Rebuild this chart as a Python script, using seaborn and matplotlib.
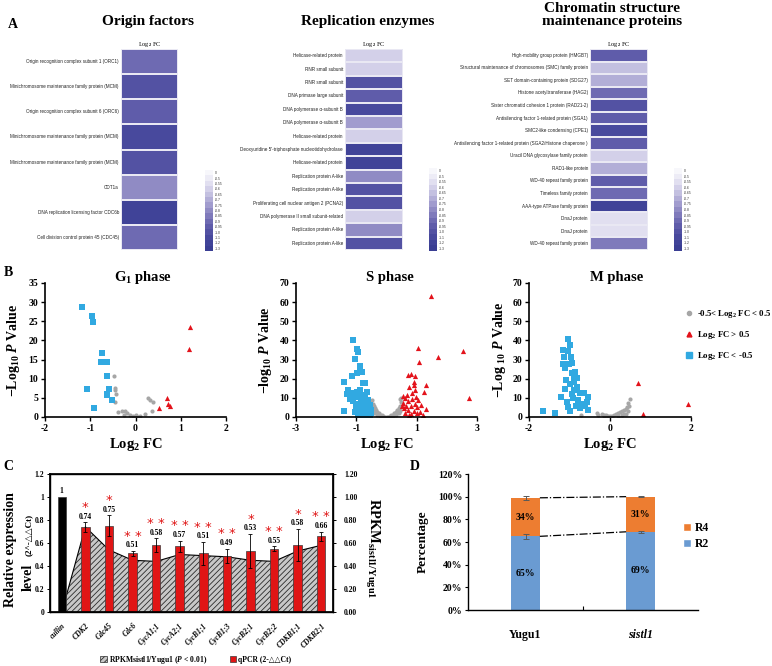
import numpy as np
import pandas as pd
import matplotlib
matplotlib.use("Agg")
import matplotlib.pyplot as plt
import seaborn as sns
from matplotlib.colors import ListedColormap, BoundaryNorm
from matplotlib.patches import Patch
from matplotlib.lines import Line2D

# ---------------- DATA ----------------
origin_genes = ["Origin recognition complex subunit 1 (ORC1)",
                "Minichromosome maintenance family protein (MCM)",
                "Origin recognition complex subunit 6 (ORC6)",
                "Minichromosome maintenance family protein (MCM)",
                "Minichromosome maintenance family protein (MCM)",
                "CDT1a",
                "DNA replication licensing factor CDC6b",
                "Cell division control protein 45 (CDC45)"]
origin_fc = [-0.9, -1.0, -0.95, -1.1, -1.0, -0.8, -1.2, -0.9]

rep_genes = ["Helicase-related protein", "RNR small subunit", "RNR small subunit",
             "DNA primase large subunit", "DNA polymerase \u03b1-subunit B",
             "DNA polymerase \u03b1-subunit B", "Helicase-related protein",
             "Deoxyuridine 5'-triphosphate nucleotidohydrolase", "Helicase-related protein",
             "Replication protein A-like", "Replication protein A-like",
             "Proliferating cell nuclear antigen 2 (PCNA2)",
             "DNA polymerase II small subunit-related", "Replication protein A-like",
             "Replication protein A-like"]
rep_fc = [-0.6, -0.6, -1.0, -0.95, -1.1, -0.75, -0.6, -1.2, -1.2, -0.8, -1.0, -1.0, -0.6, -0.8, -1.0]

chrom_genes = ["High-mobility group protein (HMGB7)",
               "Structural maintenance of chromosomes (SMC) family protein",
               "SET domain-containing protein (SDG27)",
               "Histone acetyltransferase (HAG2)",
               "Sister chromatid cohesion 1 protein (RAD21-2)",
               "Antisilencing factor 1-related protein (SGA1)",
               "SMC2-like condensing (CPE1)",
               "Antisilencing factor 1-related protein (SGA2/Histone chaperone )",
               "Uracil DNA glycosylase family protein",
               "RAD1-like protein", "WD-40 repeat family protein",
               "Timeless family protein", "AAA-type ATPase family protein",
               "DnaJ protein", "DnaJ protein", "WD-40 repeat family protein"]
chrom_fc = [-0.95, -0.65, -0.7, -0.9, -1.0, -0.95, -1.1, -0.95, -0.6, -0.7, -0.95, -0.9, -1.2, -0.55, -0.55, -0.85]

cbar_levels = [0, -0.5, -0.55, -0.6, -0.65, -0.7, -0.75, -0.8, -0.85, -0.9, -0.95, -1.0, -1.1, -1.2, -1.3]
cbar_labels = ["0", "-0.5", "-0.55", "-0.6", "-0.65", "-0.7", "-0.75", "-0.8", "-0.85",
               "-0.9", "-0.95", "-1.0", "-1.1", "-1.2", "-1.3"]

# Volcano G1
g1_blue_x = [-1.19, -0.97, -0.94, -0.75, -0.77, -0.62, -0.62, -0.58, -1.08, -0.64, -0.52, -0.92, -0.63]
g1_blue_y = [28.7, 26.4, 24.8, 16.7, 14.3, 14.3, 10.7, 7.2, 7.2, 5.9, 4.4, 2.3, 5.7]
g1_grey_x = [-0.48, -0.45, -0.45, -0.44, -0.45, -0.38, -0.30, -0.23, -0.18, -0.12, -0.05, 0.00, 0.05, 0.28, 0.33, 0.39, 0.37, 0.20, 0.10, -0.25]
g1_grey_y = [10.7, 7.5, 7.0, 6.1, 4.0, 1.3, 1.5, 1.5, 1.0, 0.5, 0.3, 0.4, 0.1, 5.0, 4.5, 4.0, 1.5, 0.8, 0.3, 0.5]
g1_red_x = [1.20, 1.19, 0.53, 0.69, 0.72, 0.76]
g1_red_y = [23.5, 17.7, 2.4, 5.0, 3.5, 3.0]

# Volcano S
s_blue_x = [-1.12, -0.99, -0.93, -1.04, -0.88, -0.88, -0.99, -1.15, -0.82, -1.41, -0.77, -0.70, -1.27, -1.15,
            -0.99, -0.88, -0.66, -1.30, -0.80, -1.05, -0.92, -0.72, -0.60, -1.10, -0.85, -0.95, -0.68, -0.55,
            -1.00, -0.78, -0.62, -0.90, -0.52, -1.40, -0.70, -1.05, -0.82, -0.60, -0.95, -0.75, -0.55, -0.65,
            -1.20, -0.50]
s_blue_y = [40.0, 35.4, 34.1, 30.3, 26.6, 24.9, 22.8, 21.6, 23.7, 18.1, 17.6, 17.8, 14.1, 12.4,
            13.2, 14.1, 12.9, 12.0, 11.5, 11.0, 10.5, 10.0, 9.0, 8.5, 8.0, 7.0, 7.5, 6.5,
            5.5, 5.0, 4.5, 4.0, 3.5, 3.3, 3.0, 2.5, 2.0, 1.5, 1.2, 1.0, 0.8, 0.5,
            9.5, 2.0]
s_red_x = [1.47, 1.05, 1.08, 1.70, 2.55, 2.73, 0.70, 0.80, 0.94, 0.92, 0.90, 0.75, 1.31, 1.24, 0.94,
           0.83, 0.56, 0.67, 0.97, 0.60, 0.85, 1.05, 0.72, 0.55, 0.95, 1.15, 0.65, 0.80, 1.00, 0.58,
           1.30, 0.70, 0.90, 1.10, 0.62, 0.82, 1.20, 0.52, 0.75, 1.00]
s_red_y = [63.4, 35.9, 28.9, 31.5, 34.6, 9.8, 21.9, 22.5, 21.6, 18.5, 16.7, 15.5, 16.7, 12.9, 14.1,
           12.4, 11.2, 11.6, 10.7, 10.0, 9.5, 9.0, 8.5, 7.5, 7.0, 6.5, 6.0, 5.5, 5.0, 4.5,
           4.0, 3.5, 3.0, 2.5, 2.0, 1.5, 1.0, 5.5, 1.0, 2.0]
s_grey_x = [-0.48, -0.45, -0.42, -0.38, -0.35, -0.30, -0.25, -0.20, -0.15, -0.10, -0.05, 0.00, 0.05,
            0.10, 0.15, 0.20, 0.25, 0.30, 0.35, 0.40, 0.44, 0.47, 0.49, -0.46, -0.40, -0.32, -0.22,
            0.22, 0.32, 0.40, 0.46, -0.49, 0.48, 0.45]
s_grey_y = [9.0, 7.0, 5.5, 4.5, 3.5, 2.6, 1.9, 1.3, 0.8, 0.4, 0.1, 0.0, 0.1,
            0.4, 0.8, 1.3, 1.9, 2.6, 3.5, 4.5, 6.0, 8.0, 10.0, 3.0, 2.0, 1.0, 0.5,
            0.5, 1.0, 2.0, 3.0, 5.0, 5.0, 9.5]

# Volcano M
m_blue_x = [-1.04, -1.00, -1.17, -1.04, -1.13, -0.96, -1.17, -1.01, -0.93, -1.11, -0.86, -0.90, -0.82,
            -0.88, -0.99, -1.11, -0.82, -0.74, -0.65, -0.54, -1.21, -1.65, -1.36, -1.03, -0.54, -0.58,
            -0.91, -0.95, -1.05, -0.80, -0.70, -0.85, -1.00, -0.75, -0.62, -0.90, -0.95, -1.08]
m_blue_y = [40.6, 37.6, 35.0, 34.6, 31.2, 31.2, 27.7, 27.7, 28.4, 25.4, 23.7, 21.1, 20.3,
            18.5, 17.2, 14.6, 15.7, 12.3, 12.3, 10.6, 10.6, 3.3, 1.9, 5.4, 3.7, 8.0,
            9.9, 12.0, 8.0, 9.0, 7.0, 6.0, 3.0, 4.5, 5.5, 14.0, 23.0, 19.5]
m_grey_x = [0.49, 0.45, 0.47, 0.42, 0.40, 0.35, 0.30, 0.25, 0.20, 0.15, 0.10, 0.05, 0.00, -0.05,
            -0.10, -0.15, -0.20, -0.30, -0.33, -0.72, 0.30, 0.40, 0.20, -0.15, 0.45, 0.35]
m_grey_y = [9.2, 7.5, 6.0, 5.0, 4.0, 3.5, 3.0, 2.5, 2.0, 1.5, 1.0, 0.6, 0.3, 0.5,
            0.8, 1.2, 1.6, 1.0, 2.0, 1.0, 1.0, 1.8, 0.5, 0.3, 3.0, 1.5]
m_red_x = [0.70, 0.82, 1.93]
m_red_y = [17.6, 1.6, 6.8]

# Panel C
genes_c = ["cullin", "CDK2", "Cdc45", "Cdc6", "CycA1;1", "CycA2;1", "CycB1;1", "CycB1;3",
           "CycB2;1", "CycB2;2", "CDKB1;1", "CDKB2;1"]
qpcr = [1.00, 0.74, 0.75, 0.51, 0.58, 0.57, 0.51, 0.49, 0.53, 0.55, 0.58, 0.66]
qpcr_err = [0.0, 0.04, 0.09, 0.02, 0.06, 0.05, 0.10, 0.06, 0.15, 0.02, 0.14, 0.04]
qpcr_stars = ["", "*", "*", "**", "**", "**", "**", "**", "*", "**", "*", "**"]
rpkm_ratio = [0.00, 0.74, 0.54, 0.45, 0.44, 0.50, 0.49, 0.48, 0.45, 0.44, 0.53, 0.58]

# Panel D
genotypes = ["Yugu1", "sistl1"]
r2_pct = [65, 69]
r4_pct = [34, 31]
r2_err = [2.0, 1.0]
top_err = [1.5, 0.6]

# ---------------- STYLE ----------------
sns.set_theme(style="white")
plt.rcParams["font.family"] = ["Liberation Serif", "DejaVu Sans"]
plt.rcParams["font.weight"] = "bold"
plt.rcParams["axes.labelweight"] = "bold"
plt.rcParams["mathtext.fontset"] = "custom"
plt.rcParams["mathtext.rm"] = "Liberation Serif:bold"
plt.rcParams["mathtext.it"] = "Liberation Serif:italic:bold"
plt.rcParams["mathtext.bf"] = "Liberation Serif:bold"
plt.rcParams["mathtext.default"] = "rm"
plt.rcParams["axes.unicode_minus"] = False
for k in ["text.color", "axes.labelcolor", "xtick.color", "ytick.color", "axes.edgecolor"]:
    plt.rcParams[k] = "black"
plt.rcParams["hatch.linewidth"] = 0.6

W, H = 772, 666
fig = plt.figure(figsize=(W / 100, H / 100), dpi=100)


def px_ax(x0, y0, x1, y1):
    return fig.add_axes([x0 / W, 1 - y1 / H, (x1 - x0) / W, (y1 - y0) / H])


def ftext(x, y, s, **kw):
    return fig.text(x / W, 1 - y / H, s, **kw)


hm_colors_light_to_dark = ["#F7F7FB", "#EDECF6", "#E1DFF0", "#D3D0E9", "#C3C0E0", "#B2AED7",
                           "#A19CCE", "#908BC4", "#7F7ABB", "#6E6AB2", "#5F5CAA", "#5352A3",
                           "#48499D", "#404398", "#3A3E93"]
asc_levels = sorted(cbar_levels)
bounds = [asc_levels[0] - 0.05] + [(a + b) / 2 for a, b in zip(asc_levels[:-1], asc_levels[1:])] + [0.05]
hm_cmap = ListedColormap(hm_colors_light_to_dark[::-1])
hm_norm = BoundaryNorm(bounds, hm_cmap.N)


def heat(box, genes, vals, cbox):
    ax = px_ax(*box)
    df = pd.DataFrame({"v": vals}, index=genes)
    sns.heatmap(df, ax=ax, cmap=hm_cmap, norm=hm_norm, cbar=False, xticklabels=False,
                yticklabels=True, linewidths=0.3, linecolor="#E9E8F3")
    ax.set_ylabel("")
    ax.tick_params(axis="y", length=0, pad=1.5, left=False)
    for t in ax.get_yticklabels():
        t.set_fontsize(3.3)
        t.set_fontfamily("Liberation Sans")
        t.set_fontweight("normal")
        t.set_rotation(0)
        t.set_color("#222222")
    ax.set_title("Log$_2$ FC", fontsize=4.5, pad=2.5)
    cax = px_ax(*cbox)
    cdf = pd.DataFrame({"v": cbar_levels}, index=cbar_labels)
    sns.heatmap(cdf, ax=cax, cmap=hm_cmap, norm=hm_norm, cbar=False, xticklabels=False,
                yticklabels=True, linewidths=0)
    cax.set_ylabel("")
    cax.yaxis.tick_right()
    cax.tick_params(axis="y", length=0, pad=1, right=False, left=False)
    for t in cax.get_yticklabels():
        t.set_fontsize(2.4)
        t.set_fontfamily("Liberation Sans")
        t.set_fontweight("normal")
        t.set_rotation(0)
        t.set_color("#333333")


heat((121, 49, 178, 250), origin_genes, origin_fc, (205, 170, 213, 251))
heat((345, 49, 403, 250), rep_genes, rep_fc, (429, 168, 437, 251))
heat((590, 49, 648, 250), chrom_genes, chrom_fc, (674, 168, 682, 251))

ftext(148, 22, "Origin factors", fontsize=11, ha="center", va="center")
ftext(368, 22, "Replication enzymes", fontsize=11, ha="center", va="center")
ftext(612, 15, "Chromatin structure\nmaintenance proteins", fontsize=11, ha="center", va="center",
      linespacing=1.0)

for lab, (x, y) in {"A": (13, 24), "B": (8, 273), "C": (8, 467), "D": (415, 467)}.items():
    ftext(x, y, lab, fontsize=10, ha="center", va="center")

# ---------------- VOLCANO ----------------
C_GREY, C_RED, C_BLUE = "#A6A6A6", "#E3131B", "#31A9E1"


def volcano(box, gx, gy, rx, ry, bx, by, xlim, xticks, ylim, yticks, title, title_x, ylab, ylab_x):
    ax = px_ax(*box)
    sns.scatterplot(x=gx, y=gy, ax=ax, color=C_GREY, marker="o", s=9, linewidth=0)
    sns.scatterplot(x=rx, y=ry, ax=ax, color=C_RED, marker="^", s=14, linewidth=0)
    sns.scatterplot(x=bx, y=by, ax=ax, color=C_BLUE, marker="s", s=16, linewidth=0)
    ax.set_xlim(*xlim)
    ax.set_ylim(*ylim)
    ax.set_xticks(xticks)
    ax.set_yticks(yticks)
    sns.despine(ax=ax)
    for s in ["left", "bottom"]:
        ax.spines[s].set_linewidth(1.2)
    ax.tick_params(axis="both", bottom=True, left=True, direction="out", length=3, width=1.0,
                   labelsize=7, pad=2)
    ax.set_xlabel("Log$_2$ FC", fontsize=10.5, labelpad=2)
    ftext(title_x, 278, title, fontsize=10.5, ha="center", va="center")
    ftext(ylab_x, 350, ylab, fontsize=10, ha="center", va="center", rotation=90)
    return ax


volcano((45, 283, 226, 417), g1_grey_x, g1_grey_y, g1_red_x, g1_red_y, g1_blue_x, g1_blue_y,
        (-2, 2), [-2, -1, 0, 1, 2], (0, 35), list(range(0, 36, 5)), "G$_1$ phase", 143,
        "\u2212Log$_{10}$ $\\mathit{P}$ Value", 14)
volcano((296, 283, 477, 417), s_grey_x, s_grey_y, s_red_x, s_red_y, s_blue_x, s_blue_y,
        (-3, 3), [-3, -1, 1, 3], (0, 70), list(range(0, 71, 10)), "S phase", 390,
        "\u2212log$_{10}$ $\\mathit{P}$ Value", 265)
volcano((529, 283, 691, 417), m_grey_x, m_grey_y, m_red_x, m_red_y, m_blue_x, m_blue_y,
        (-2, 2), [-2, 0, 2], (0, 70), list(range(0, 71, 10)), "M phase", 617,
        "\u2212Log $_{10}$ $\\mathit{P}$ Value", 499)

vol_handles = [Line2D([], [], ls="", marker="o", color=C_GREY, markersize=3),
               Line2D([], [], ls="", marker="^", color=C_RED, markersize=3.5),
               Line2D([], [], ls="", marker="s", color=C_BLUE, markersize=3.8)]
fig.legend(vol_handles, ["-0.5< Log$_2$ FC < 0.5", "Log$_2$ FC > 0.5", "Log$_2$ FC < -0.5"],
           loc="center left", bbox_to_anchor=(680 / W, 1 - 335 / H), frameon=False, fontsize=6.3,
           handlelength=1.0, handletextpad=0.4, labelspacing=1.0, borderpad=0)

# ---------------- PANEL C ----------------
axc = px_ax(50, 474, 333, 612)
xs = np.arange(len(genes_c))
axc.fill_between(xs, 0, rpkm_ratio, facecolor="#C8C8C8", edgecolor="#2B2B2B", hatch="//////",
                 linewidth=0, zorder=1)
axc.plot(xs, rpkm_ratio, color="black", lw=0.8, zorder=1.5)
bar_colors = ["#000000"] + ["#E01515"] * (len(genes_c) - 1)
dfc = pd.DataFrame({"gene": genes_c, "qpcr": qpcr})
sns.barplot(data=dfc, x="gene", y="qpcr", hue="gene", palette=bar_colors, width=0.36,
            edgecolor="#3A3A3A", linewidth=0.5, saturation=1, legend=False, ax=axc, zorder=3)
axc.errorbar(xs[1:], qpcr[1:], yerr=qpcr_err[1:], fmt="none", ecolor="black", elinewidth=0.6,
             capsize=1.6, capthick=0.6, zorder=4)
for i, (v, e, st) in enumerate(zip(qpcr, qpcr_err, qpcr_stars)):
    lab = "1" if v == 1 else f"{v:.2f}"
    axc.text(i, v + e + 0.015, lab, ha="center", va="bottom", fontsize=5.5, zorder=5)
    if st:
        axc.text(i, v + e + 0.072, " ".join(st), ha="center", va="bottom", fontsize=9.5,
                 color="#E01515", fontfamily="DejaVu Sans", fontweight="normal", zorder=5,
                 linespacing=0.8)
axc.set_xlim(-0.5, len(genes_c) - 0.5)
axc.set_ylim(0, 1.2)
axc.set_yticks([0, 0.2, 0.4, 0.6, 0.8, 1.0, 1.2])
axc.set_yticklabels(["0", "0.2", "0.4", "0.6", "0.8", "1", "1.2"])
axc.set_xlabel("")
axc.set_ylabel("")
for s in axc.spines.values():
    s.set_linewidth(1.0)
    s.set_visible(True)
axc.tick_params(axis="y", left=True, direction="out", length=2, width=0.7, labelsize=5.5, pad=2)
axc.tick_params(axis="x", bottom=False, labelsize=5.5, pad=1)
for t in axc.get_xticklabels():
    t.set_rotation(45)
    t.set_ha("right")
    t.set_rotation_mode("anchor")
    t.set_fontstyle("italic")
axc2 = axc.twinx()
axc2.set_ylim(0, 1.2)
axc2.set_yticks([0, 0.2, 0.4, 0.6, 0.8, 1.0, 1.2])
axc2.set_yticklabels([f"{v:.2f}" for v in [0, 0.2, 0.4, 0.6, 0.8, 1.0, 1.2]])
axc2.tick_params(axis="y", right=True, direction="out", length=2, width=0.7, labelsize=5.5, pad=6)
axc2.grid(False)

ftext(11, 550, "Relative expression", fontsize=10, rotation=90, ha="center", va="center")
ftext(28, 577, "level", fontsize=10, rotation=90, ha="center", va="center")
ftext(29, 535, "(2^-\u25b3\u25b3Ct)", fontsize=6.5, rotation=90, ha="center", va="center")
ftext(372, 548, "RPKM$_{\\mathregular{sistl1/Yugu1}}$", fontsize=10.5, rotation=270,
      ha="center", va="center")

c_handles = [Patch(facecolor="#C8C8C8", edgecolor="#2B2B2B", hatch="//////", linewidth=0.5),
             Patch(facecolor="#E01515", edgecolor="#3A3A3A", linewidth=0.5)]
fig.legend(c_handles, ["RPKMsistl1/Yugu1 ($\\mathit{P}$ < 0.01)", "qPCR (2-\u25b3\u25b3Ct)"],
           loc="center", bbox_to_anchor=(196 / W, 1 - 660 / H), ncol=2, frameon=False,
           fontsize=5.5, handlelength=0.8, handleheight=0.8, handletextpad=0.3,
           columnspacing=3.0, borderpad=0)

# ---------------- PANEL D ----------------
axd = px_ax(468, 474, 698, 610)
totals = [a + b for a, b in zip(r2_pct, r4_pct)]
C_R4, C_R2 = "#ED7D31", "#6A9BD2"
sns.barplot(x=genotypes, y=totals, color=C_R4, width=0.25, saturation=1, ax=axd, linewidth=0)
sns.barplot(x=genotypes, y=r2_pct, color=C_R2, width=0.25, saturation=1, ax=axd, linewidth=0)
xd = np.arange(len(genotypes))
axd.errorbar(xd, totals, yerr=top_err, fmt="none", ecolor="#595959", elinewidth=0.7,
             capsize=2, capthick=0.7, zorder=4)
axd.errorbar(xd, r2_pct, yerr=r2_err, fmt="none", ecolor="#595959", elinewidth=0.7,
             capsize=2, capthick=0.7, zorder=4)
axd.plot([0.125, 0.875], totals, ls="-.", color="black", lw=0.9)
axd.plot([0.125, 0.875], r2_pct, ls="-.", color="black", lw=0.9)
for i in range(len(genotypes)):
    axd.text(i, r2_pct[i] / 2, f"{r2_pct[i]}%", ha="center", va="center", fontsize=7)
    axd.text(i, r2_pct[i] + r4_pct[i] / 2, f"{r4_pct[i]}%", ha="center", va="center", fontsize=7)
axd.set_xlim(-0.5, 1.5)
axd.set_ylim(0, 120)
axd.set_yticks(range(0, 121, 20))
axd.set_yticklabels([f"{v}%" for v in range(0, 121, 20)])
sns.despine(ax=axd)
axd.spines["left"].set_linewidth(1.0)
axd.spines["bottom"].set_linewidth(1.0)
axd.tick_params(axis="y", left=True, direction="out", length=2, width=0.8, labelsize=7, pad=2)
axd.set_xticks([0.5], minor=True)
axd.tick_params(axis="x", which="minor", bottom=True, direction="in", length=3, width=0.8)
axd.tick_params(axis="x", which="major", bottom=False, labelsize=8.5, pad=8)
xl = axd.get_xticklabels()
xl[1].set_fontstyle("italic")
axd.set_xlabel("")
axd.set_ylabel("")
ftext(423, 542, "Percentage", fontsize=9.5, rotation=90, ha="center", va="center")
d_handles = [Patch(facecolor=C_R4), Patch(facecolor=C_R2)]
fig.legend(d_handles, ["R4", "R2"], loc="center left", bbox_to_anchor=(677 / W, 1 - 536 / H),
           frameon=False, fontsize=8.5, handlelength=0.7, handleheight=0.7, handletextpad=0.3,
           labelspacing=0.3, borderpad=0)

fig.savefig("out.png", dpi=100)
